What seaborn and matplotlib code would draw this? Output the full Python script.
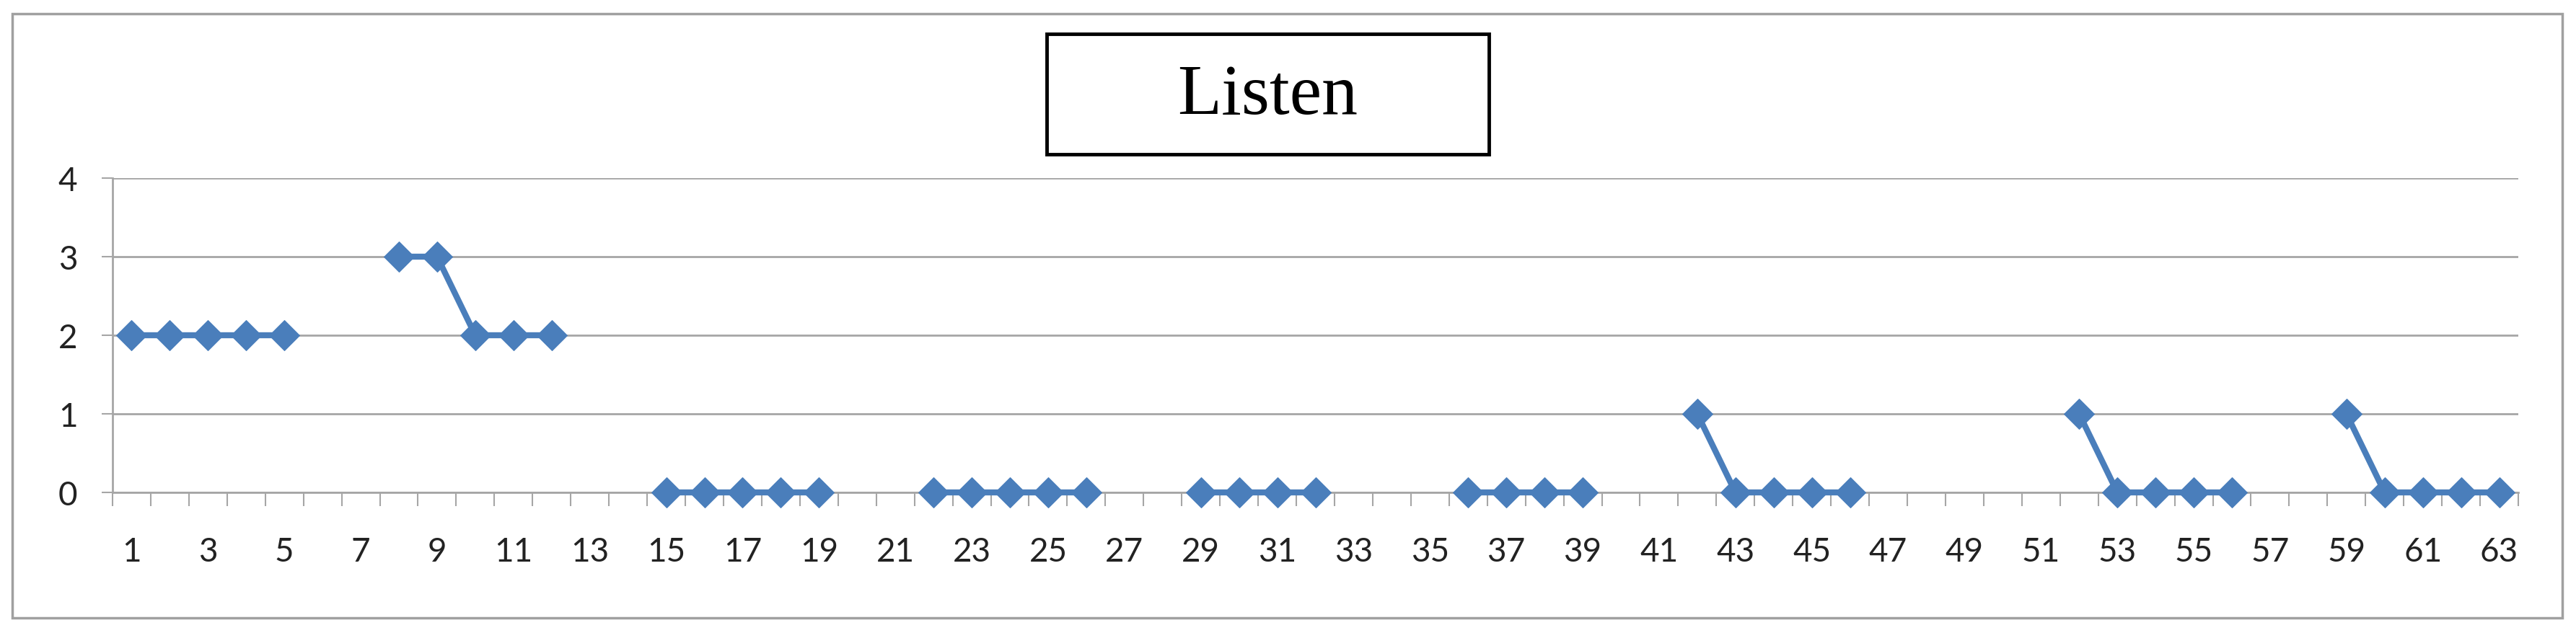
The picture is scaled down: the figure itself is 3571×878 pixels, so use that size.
import numpy as np
import pandas as pd
import seaborn as sns
import matplotlib.pyplot as plt
from matplotlib.patches import Rectangle

# data (None = no value at that position)
positions = list(range(1, 64))
listen = [2, 2, 2, 2, 2, None, None,
          3, 3, 2, 2, 2, None, None,
          0, 0, 0, 0, 0, None, None,
          0, 0, 0, 0, 0, None, None,
          0, 0, 0, 0, None, None, None,
          0, 0, 0, 0, None, None,
          1, 0, 0, 0, 0, None, None, None, None, None,
          1, 0, 0, 0, 0, None, None,
          1, 0, 0, 0, 0]
y_ticks = [0, 1, 2, 3, 4]
title = 'Listen'

df = pd.DataFrame({'pos': positions, 'value': listen})
df['value'] = df['value'].astype(float)
# split into runs so gaps are not bridged
df['segment'] = df['value'].isna().cumsum()
df = df.dropna()

sns.set_style('white')
plt.rcParams['font.family'] = ['Lato', 'DejaVu Sans']

W, H = 3571, 879
fig = plt.figure(figsize=(W / 100, H / 100), dpi=100)
ax = fig.add_axes([156 / W, 1 - 684 / H, (3491 - 156) / W, (684 - 248) / H])

blue = '#4A7EBB'
grid_c = '#A6A6A6'

sns.lineplot(data=df, x='pos', y='value', units='segment', estimator=None,
             color=blue, linewidth=6, marker='D', markersize=21,
             markeredgecolor=blue, ax=ax, clip_on=False, zorder=5)

ax.set_xlim(0.5, 63.5)
ax.set_ylim(0, 4)
ax.set_xlabel('')
ax.set_ylabel('')

ax.set_yticks(y_ticks)
ax.yaxis.grid(True, color=grid_c, linewidth=2)
ax.xaxis.grid(False)
ax.set_axisbelow(True)

ax.set_xticks(positions[::2])
ax.set_xticks(np.arange(0.5, 64, 1), minor=True)
ax.tick_params(axis='x', which='major', length=0, pad=44, labelsize=33, labelcolor='#222222')
ax.tick_params(axis='x', which='minor', length=14, width=1.5, color=grid_c, direction='out', bottom=True)
ax.tick_params(axis='y', which='major', length=11, width=1.5, color=grid_c, direction='out',
               left=True, pad=24, labelsize=33, labelcolor='#222222')

for side in ['top', 'right']:
    ax.spines[side].set_visible(False)
for side in ['left', 'bottom']:
    ax.spines[side].set_color(grid_c)
    ax.spines[side].set_linewidth(2)

# outer chart border
fig.patches.append(Rectangle((17 / W, 1 - 858 / H), (3552 - 17) / W, (858 - 20) / H,
                             transform=fig.transFigure, fill=False,
                             edgecolor='#A0A0A0', linewidth=2.5))
# title box
fig.patches.append(Rectangle((1451 / W, 1 - 215 / H), (2064 - 1451) / W, (215 - 48) / H,
                             transform=fig.transFigure, fill=False,
                             edgecolor='black', linewidth=3.5))
fig.text((1451 + 2064) / 2 / W, 1 - 134 / H, title, ha='center', va='center',
         fontsize=72, family='Liberation Serif', color='black')

fig.savefig('out.png', dpi=100, facecolor='white')
